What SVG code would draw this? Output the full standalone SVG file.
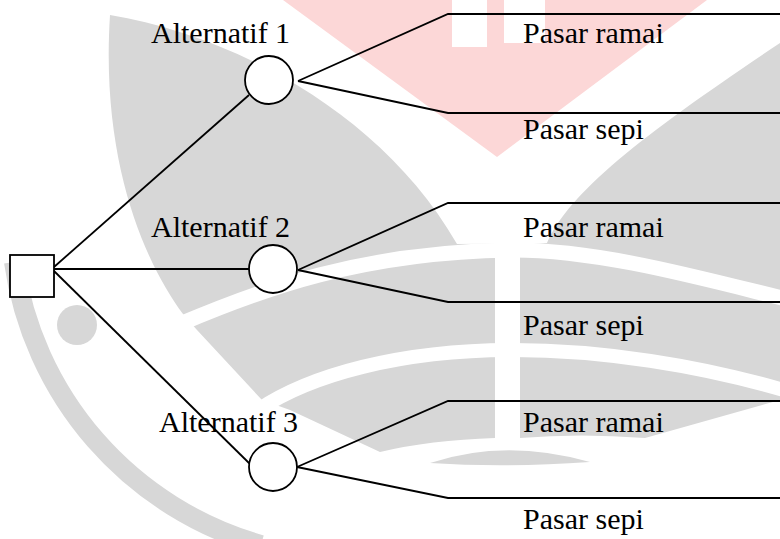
<svg xmlns="http://www.w3.org/2000/svg" width="780" height="539" viewBox="0 0 780 539">
<style>
.wm{fill:#d7d7d7;stroke:none}
.gap{fill:none;stroke:#ffffff}
.ln{fill:none;stroke:#000;stroke-width:1.8}
.nd{fill:#fff;stroke:#000;stroke-width:1.8}
text{font-family:'Liberation Serif',Tinos,'Times New Roman',Times,'Nimbus Roman','DejaVu Serif',serif;font-size:30px;fill:#000}
</style>
<rect width="780" height="539" fill="#fff"/>
<g id="watermark">
<polygon points="283,0 707,0 497,157" fill="#fcd7d7"/>
<rect x="452" y="0" width="35" height="47" fill="#fff"/>
<rect x="504" y="0" width="41" height="43" fill="#fff"/>
<path class="wm" d="M110,15 C230,35 380,110 457,244 L547,243 C570,190 650,130 780,43 L780,400 L645,438 Q580,433 520,438 L495,438 Q430,440 380,452 L290,410 L262,400 L197,330 L183,314 C150,270 100,170 110,15 Z"/>
<path class="gap" stroke-width="15" d="M180,324 C260,290 360,252 513,250 C600,250 700,278 790,300"/>
<path class="gap" stroke-width="14" d="M258,410 C310,375 400,350 513,350 C600,350 700,365 790,392"/>
<rect x="495" y="255" width="25" height="190" fill="#fff"/>
<path class="wm" d="M430,463 Q505,438 590,462 Q505,468 430,463 Z"/>
<circle class="wm" cx="77" cy="325" r="20"/>
<path fill="none" stroke="#d7d7d7" stroke-width="20" d="M14,262 A344,344 0 0,0 261,545"/>
</g>
<g id="connectors">
<line class="ln" x1="54" y1="267" x2="249" y2="95"/>
<line class="ln" x1="54" y1="269" x2="249" y2="269"/>
<line class="ln" x1="54" y1="271" x2="250" y2="464"/>
<polyline class="ln" points="298,81 448,14 780,14"/>
<polyline class="ln" points="298,81 448,113 780,113"/>
<polyline class="ln" points="298,270 448,203 780,203"/>
<polyline class="ln" points="298,270 448,302 780,302"/>
<polyline class="ln" points="297,467 448,401 780,401"/>
<polyline class="ln" points="297,467 448,498 780,498"/>
</g>
<g id="decision">
<rect class="nd" x="10" y="255" width="44" height="42"/>
</g>
<g id="chance1">
<circle class="nd" cx="269" cy="80" r="24"/>
<text x="151" y="43">Alternatif 1</text>
</g>
<g id="chance2">
<circle class="nd" cx="273" cy="269" r="24"/>
<text x="151" y="237">Alternatif 2</text>
</g>
<g id="chance3">
<circle class="nd" cx="273" cy="467" r="24"/>
<text x="159" y="432">Alternatif 3</text>
</g>
<g id="outcomes">
<text x="523" y="43">Pasar ramai</text>
<text x="523" y="139">Pasar sepi</text>
<text x="523" y="237">Pasar ramai</text>
<text x="523" y="335">Pasar sepi</text>
<text x="523" y="432">Pasar ramai</text>
<text x="523" y="529">Pasar sepi</text>
</g>
</svg>
